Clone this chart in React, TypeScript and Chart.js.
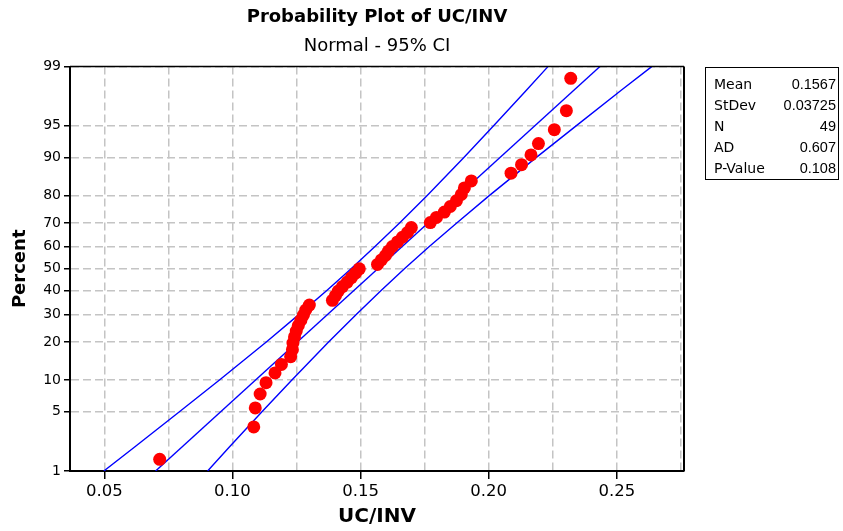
import React, { useEffect, useRef } from 'react';
import { Chart, registerables } from 'chart.js';

Chart.register(...registerables);

// ---- data ----
const ucInv = [
  0.0716, 0.1083, 0.1089, 0.1108, 0.1131, 0.1166, 0.1191, 0.1227, 0.1234, 0.1236,
  0.1242, 0.1249, 0.1257, 0.1267, 0.1277, 0.1286, 0.1300, 0.1390, 0.1402, 0.1413,
  0.1429, 0.1448, 0.1464, 0.1480, 0.1495, 0.1566, 0.1581, 0.1597, 0.1609, 0.1624,
  0.1644, 0.1663, 0.1683, 0.1698, 0.1772, 0.1796, 0.1827, 0.1850, 0.1874, 0.1893,
  0.1905, 0.1932, 0.2087, 0.2128, 0.2165, 0.2194, 0.2256, 0.2303, 0.2320,
];
const percent = [
  1.42, 3.44, 5.47, 7.49, 9.51, 11.54, 13.56, 15.59, 17.61, 19.64,
  21.66, 23.68, 25.71, 27.73, 29.76, 31.78, 33.81, 35.83, 37.85, 39.88,
  41.90, 43.93, 45.95, 47.98, 50.00, 52.02, 54.05, 56.07, 58.10, 60.12,
  62.15, 64.17, 66.19, 68.22, 70.24, 72.27, 74.29, 76.32, 78.34, 80.36,
  82.39, 84.41, 86.44, 88.46, 90.49, 92.51, 94.53, 96.56, 98.58,
];
const fitPercent = [1, 99];
const fitX = [0.0700, 0.2434];
const bandPercent = [1, 2, 5, 10, 20, 30, 40, 50, 60, 70, 80, 90, 95, 98, 99];
const ciLeft = [0.0498, 0.0617, 0.0793, 0.0948, 0.1132, 0.1260, 0.1367, 0.1463, 0.1555, 0.1651, 0.1759, 0.1903, 0.2019, 0.2147, 0.2231];
const ciRight = [0.0903, 0.0987, 0.1115, 0.1231, 0.1375, 0.1483, 0.1579, 0.1671, 0.1767, 0.1874, 0.2002, 0.2186, 0.2341, 0.2517, 0.2636];

const yTicks = [1, 5, 10, 20, 30, 40, 50, 60, 70, 80, 90, 95, 99];
const yTickLabels = ['1', '5', '10', '20', '30', '40', '50', '60', '70', '80', '90', '95', '99'];
const xTicks = [0.05, 0.075, 0.1, 0.125, 0.15, 0.175, 0.2, 0.225, 0.25, 0.275];
const xTickLabels = ['0.05', '', '0.10', '', '0.15', '', '0.20', '', '0.25', ''];

const statLabels = ['Mean', 'StDev', 'N', 'AD', 'P-Value'];
const statValues = ['0.1567', '0.03725', '49', '0.607', '0.108'];

// inverse standard normal (probability-scale transform)
function probit(p: number): number {
  const a = [-3.969683028665376e1, 2.209460984245205e2, -2.759285104469687e2, 1.38357751867269e2, -3.066479806614716e1, 2.506628277459239];
  const b = [-5.447609879822406e1, 1.615858368580409e2, -1.556989798598866e2, 6.680131188771972e1, -1.328068155288572e1];
  const c = [-7.784894002430293e-3, -3.223964580411365e-1, -2.400758277161838, -2.549732539343734, 4.374664141464968, 2.938163982698783];
  const d = [7.784695709041462e-3, 3.224671290700398e-1, 2.445134137142996, 3.754408661907416];
  const plow = 0.02425;
  if (p < plow) {
    const q = Math.sqrt(-2 * Math.log(p));
    return (((((c[0] * q + c[1]) * q + c[2]) * q + c[3]) * q + c[4]) * q + c[5]) / ((((d[0] * q + d[1]) * q + d[2]) * q + d[3]) * q + 1);
  }
  if (p > 1 - plow) {
    const q = Math.sqrt(-2 * Math.log(1 - p));
    return -(((((c[0] * q + c[1]) * q + c[2]) * q + c[3]) * q + c[4]) * q + c[5]) / ((((d[0] * q + d[1]) * q + d[2]) * q + d[3]) * q + 1);
  }
  const q = p - 0.5;
  const r = q * q;
  return ((((((a[0] * r + a[1]) * r + a[2]) * r + a[3]) * r + a[4]) * r + a[5]) * q) / (((((b[0] * r + b[1]) * r + b[2]) * r + b[3]) * r + b[4]) * r + 1);
}

const framePlugin = {
  id: 'frame',
  afterDraw(chart: any) {
    const { ctx, chartArea } = chart;
    ctx.save();
    ctx.strokeStyle = '#000';
    ctx.lineWidth = 1.5;
    ctx.beginPath();
    ctx.moveTo(chartArea.left, chartArea.top);
    ctx.lineTo(chartArea.right, chartArea.top);
    ctx.stroke();
    ctx.lineWidth = 2;
    ctx.beginPath();
    ctx.moveTo(chartArea.right, chartArea.top);
    ctx.lineTo(chartArea.right, chartArea.bottom);
    ctx.stroke();
    ctx.restore();
  },
};

const App = () => {
  const ref = useRef<HTMLCanvasElement>(null);
  useEffect(() => {
    const yVals = yTicks.map((p) => probit(p / 100));
    const lineStyle = {
      showLine: true,
      borderColor: '#0000ff',
      backgroundColor: '#0000ff',
      borderWidth: 1.4,
      pointRadius: 0,
      tension: 0,
      fill: false,
    };
    const chart = new Chart(ref.current as HTMLCanvasElement, {
      type: 'scatter',
      data: {
        datasets: [
          {
            data: ucInv.map((x, i) => ({ x, y: probit(percent[i] / 100) })),
            backgroundColor: '#ff0000',
            borderColor: '#ff0000',
            borderWidth: 0,
            pointRadius: 6.5,
            order: 0,
          },
          { ...lineStyle, order: 1, data: fitX.map((x, i) => ({ x, y: probit(fitPercent[i] / 100) })) },
          { ...lineStyle, order: 2, data: ciLeft.map((x, i) => ({ x, y: probit(bandPercent[i] / 100) })) },
          { ...lineStyle, order: 3, data: ciRight.map((x, i) => ({ x, y: probit(bandPercent[i] / 100) })) },
        ] as any,
      },
      options: {
        animation: false,
        responsive: false,
        layout: { padding: { left: 0, right: 159, top: 0, bottom: 0 } },
        plugins: {
          legend: { display: false },
          tooltip: { enabled: false },
          title: {
            display: true,
            text: 'Probability Plot of UC/INV',
            fullSize: false,
            color: '#000',
            font: { family: 'DejaVu Sans', size: 18, weight: 'bold' },
            padding: { top: 7, bottom: 4 },
          },
          subtitle: {
            display: true,
            text: 'Normal - 95% CI',
            fullSize: false,
            color: '#000',
            font: { family: 'DejaVu Sans', size: 18, weight: 'normal' },
            padding: { top: 3, bottom: 9.4 },
          },
        },
        scales: {
          x: {
            type: 'linear',
            min: 0.0366,
            max: 0.2762,
            afterBuildTicks: (s: any) => {
              s.ticks = xTicks.map((v) => ({ value: v }));
            },
            afterFit: (s: any) => {
              s.height = 60;
            },
            ticks: {
              autoSkip: false,
              maxRotation: 0,
              padding: 3,
              color: '#000',
              font: { family: 'DejaVu Sans', size: 16.5 },
              callback: (_v: any, i: number) => xTickLabels[i],
            },
            grid: {
              color: '#c4c4c4',
              lineWidth: 1.5,
              tickLength: 8,
              tickWidth: 1.5,
              tickColor: (c: any) => (xTickLabels[c.index] ? '#000' : 'rgba(0,0,0,0)'),
            },
            border: { color: '#000', width: 2, dash: [8, 4] },
            title: {
              display: true,
              text: 'UC/INV',
              color: '#000',
              font: { family: 'DejaVu Sans', size: 20, weight: 'bold' },
              padding: { top: 0, bottom: 2 },
            },
          },
          y: {
            type: 'linear',
            min: probit(0.01),
            max: probit(0.99),
            afterBuildTicks: (s: any) => {
              s.ticks = yVals.map((v) => ({ value: v }));
            },
            afterFit: (s: any) => {
              s.width = 70;
            },
            ticks: {
              autoSkip: false,
              padding: 3,
              color: '#000',
              font: { family: 'DejaVu Sans', size: 14 },
              callback: (_v: any, i: number) => yTickLabels[i],
            },
            grid: {
              color: '#c4c4c4',
              lineWidth: 1.5,
              tickLength: 6,
              tickWidth: 1.5,
              tickColor: '#000',
            },
            border: { color: '#000', width: 2, dash: [8, 4] },
            title: {
              display: true,
              text: 'Percent',
              color: '#000',
              font: { family: 'DejaVu Sans', size: 18, weight: 'bold' },
              padding: { top: 10, bottom: 0 },
            },
          },
        },
      } as any,
      plugins: [framePlugin],
    });
    return () => chart.destroy();
  }, []);

  return (
    <div style={{ position: 'fixed', left: 0, top: 0, width: 843, height: 531, background: '#fff' }}>
      <canvas ref={ref} width={843} height={531} style={{ display: 'block', width: 843, height: 531 }} />
      <div
        style={{
          position: 'absolute',
          left: 705,
          top: 67,
          width: 134,
          height: 113,
          boxSizing: 'border-box',
          border: '1px solid #000',
          color: '#000',
        }}
      >
        {statLabels.map((lab, i) => (
          <div
            key={lab}
            style={{
              position: 'absolute',
              left: 8,
              right: 2,
              top: 5.5 + i * 21,
              height: 21,
              lineHeight: '21px',
              display: 'flex',
              justifyContent: 'space-between',
            }}
          >
            <span style={{ fontFamily: '"DejaVu Sans", sans-serif', fontSize: 14 }}>{lab}</span>
            <span style={{ fontFamily: '"Liberation Sans", Arial, sans-serif', fontSize: 14.5 }}>{statValues[i]}</span>
          </div>
        ))}
      </div>
    </div>
  );
};

export default App;
